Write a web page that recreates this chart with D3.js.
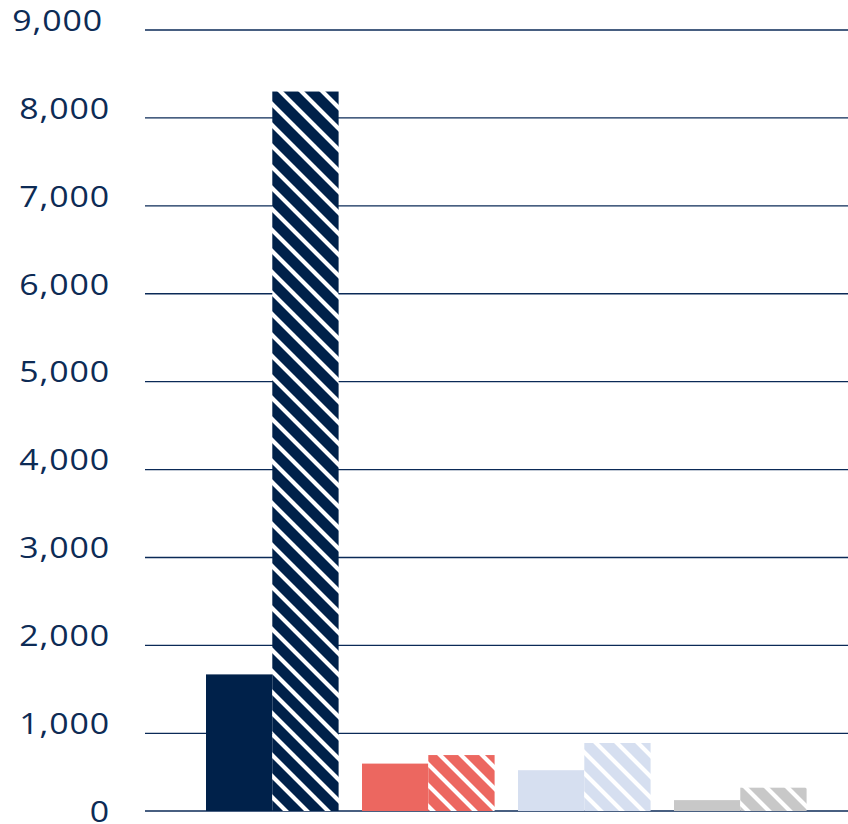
<!DOCTYPE html>
<html>
<head>
<meta charset="utf-8">
<script src="https://cdn.jsdelivr.net/npm/d3@7/dist/d3.min.js"></script>
<style>
  html, body { margin: 0; padding: 0; background: #ffffff; }
  svg { display: block; }
</style>
</head>
<body>
<div id="chart"></div>
<script>
// ---- data ----
const categories = ["A", "B", "C", "D"];
const seriesSolid = [1670, 610, 525, 140];
const seriesHatched = [8300, 720, 875, 300];
const barColors = ["#00214a", "#ec6760", "#d6dff0", "#c8c8c8"];
const yTicks = [0, 1000, 2000, 3000, 4000, 5000, 6000, 7000, 8000, 9000];

// ---- layout ----
const W = 848, H = 824;
const svg = d3.select("#chart").append("svg").attr("width", W).attr("height", H);

// the reference axis has a compressed first interval (0–1000)
const y = d3.scaleLinear().domain([0, 1000, 9000]).range([811, 733.3, 30]);
const x = d3.scaleBand().domain(categories).range([194.3, 818.3])
  .paddingInner(0.15).paddingOuter(0.075);
const xs = d3.scaleBand().domain(["solid", "hatched"]).range([0, x.bandwidth()]).padding(0);

// patterns
const defs = svg.append("defs");
barColors.forEach((c, i) => {
  const p = defs.append("pattern")
    .attr("id", "hatch" + i)
    .attr("patternUnits", "userSpaceOnUse")
    .attr("width", 21).attr("height", 21);
  p.append("rect").attr("width", 21).attr("height", 21).attr("fill", c);
  p.append("path")
    .attr("d", "M-6,-6 L27,27 M-6,15 L6,27 M15,-6 L27,6")
    .attr("stroke", "#ffffff").attr("stroke-width", 4.2).attr("fill", "none");
});

// gridlines
const fmt = d3.format(",");
svg.append("g").selectAll("line").data(yTicks).join("line")
  .attr("x1", 145).attr("x2", W)
  .attr("y1", d => y(d)).attr("y2", d => y(d))
  .attr("stroke", "#0b2a57").attr("stroke-width", 1.3);

// labels
svg.append("g").selectAll("text").data(yTicks).join("text")
  .attr("transform", d => {
    const right = d === 9000 ? 103 : 110;
    const cy = y(d) + (d === 0 ? 0 : -10);
    return `translate(${right},${cy + 10.8}) scale(1.13,1)`;
  })
  .attr("text-anchor", "end")
  .attr("font-family", "'Open Sans', 'Noto Sans', sans-serif")
  .attr("font-size", 30)
  .attr("letter-spacing", 0.8)
  .attr("fill", "#0d2b55")
  .text(d => fmt(d));

// bars
const g = svg.append("g");
g.selectAll("rect.solid").data(categories).join("rect")
  .attr("class", "solid")
  .attr("x", d => x(d) + xs("solid"))
  .attr("width", xs.bandwidth())
  .attr("y", (d, i) => y(seriesSolid[i]))
  .attr("height", (d, i) => y(0) - y(seriesSolid[i]))
  .attr("fill", (d, i) => barColors[i]);

g.selectAll("rect.hatched").data(categories).join("rect")
  .attr("class", "hatched")
  .attr("x", d => x(d) + xs("hatched"))
  .attr("width", xs.bandwidth())
  .attr("y", (d, i) => y(seriesHatched[i]))
  .attr("height", (d, i) => y(0) - y(seriesHatched[i]))
  .attr("fill", (d, i) => "url(#hatch" + i + ")");
</script>
</body>
</html>
